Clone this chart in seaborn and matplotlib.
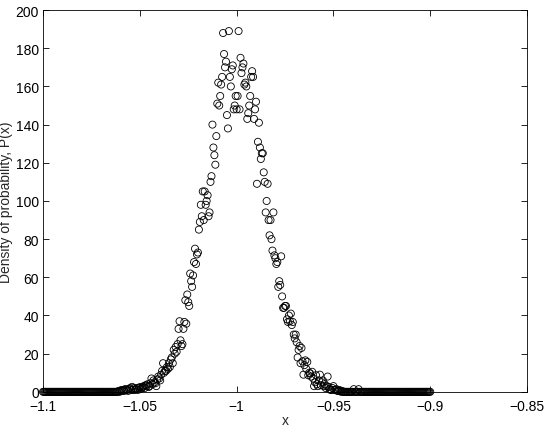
import numpy as np
import pandas as pd
import matplotlib
matplotlib.use("Agg")
import matplotlib.pyplot as plt
import seaborn as sns

# Histogram bins: x runs from -1.1 to -0.9 in steps of 0.0005
X_START = -1.1
X_STOP = -0.9
N_BINS = 401

# Density values, one per bin (bins 0..77 and 327..400 are zero)
left_zeros = [0] * 78
density_mid = [
    0.5, 0, 0.5, 1, 0.5, 1, 0.5, 1.5, 1, 1, 0.5, 1.5, 2, 1, 2.6, 1, 2, 1, 1.5, 2,
    1, 2, 2.5, 1.5, 2, 2.6, 3, 2, 3.5, 3, 4, 2.5, 3, 4.5, 7, 4, 6, 5, 4.5, 3,
    6.5, 8, 7, 6, 9, 11, 15, 10, 11, 11, 13, 12, 15, 13, 17, 18, 15, 22, 20, 23.5,
    21, 25, 33, 37, 27, 24, 25, 33, 36.6, 48, 35.7, 51, 47, 45, 62, 58, 55, 61, 68, 75,
    67, 72, 73, 85, 89, 98, 92, 105, 90, 105, 98, 100, 103, 92, 94, 110, 113, 140, 128, 124,
    119, 134, 151, 162, 150, 155, 161, 165, 188, 177, 170, 173, 145, 138, 189, 165, 160, 169, 171, 148,
    150, 155, 148, 155, 189, 148, 175, 167, 170, 172, 161, 162, 160, 143, 146, 150, 155, 165, 168, 165,
    143, 148, 152, 109, 131, 141, 128, 122, 125, 125, 115, 110, 94, 100, 109, 90, 82, 90, 80, 74,
    94, 71.5, 70, 67, 68, 55, 58, 56, 71, 50, 44, 44, 45, 45, 38, 36.6, 40, 37, 41, 35,
    36.6, 30, 28, 30, 26, 18, 22, 24, 15, 23, 16, 9, 14, 16.5, 12, 15.7, 8.7, 10, 9.6, 8,
    10.5, 7, 3, 5, 8.7, 4, 3, 6, 9, 3.5, 5, 6, 3, 4, 2, 3, 8, 2.6, 1.4, 1,
    1, 2, 3, 1, 1, 1.4, 0.5, 0.5, 1, 0.5, 0, 0.5, 0, 0, 0, 0, 0, 0, 0, 0,
    0, 0, 0, 1.4, 0, 0, 0, 0, 1.4,
]
right_zeros = [0] * (N_BINS - len(left_zeros) - len(density_mid))

x = np.linspace(X_START, X_STOP, N_BINS)
density = left_zeros + density_mid + right_zeros
df = pd.DataFrame({"x": x, "P": density})

sns.set_style("ticks")
plt.rcParams["font.family"] = ["Liberation Sans", "DejaVu Sans"]
plt.rcParams["axes.unicode_minus"] = True

fig = plt.figure(figsize=(5.45, 4.27), dpi=100)
ax = fig.add_axes([0.079, 0.080, 0.888, 0.894])

sns.scatterplot(data=df, x="x", y="P", ax=ax, marker="o", s=26,
                facecolor="none", edgecolor="black", linewidth=0.6,
                clip_on=False, legend=False)

ax.set_xlim(-1.1, -0.85)
ax.set_ylim(0, 200)
ax.set_xticks([-1.1, -1.05, -1.0, -0.95, -0.9, -0.85])
ax.set_xticklabels(["\u22121.1", "\u22121.05", "\u22121", "\u22120.95", "\u22120.9", "\u22120.85"])
ax.set_yticks(range(0, 201, 20))

ax.tick_params(direction="in", length=4, width=0.6, labelsize=10,
               top=True, right=True, colors="black")
ax.tick_params(axis="x", pad=5)
ax.tick_params(axis="y", pad=3)
for side in ax.spines.values():
    side.set_visible(True)
    side.set_linewidth(0.6)
    side.set_color("black")

ax.set_xlabel("x", fontsize=10, labelpad=0)
ax.set_ylabel("Density of probability, P(x)", fontsize=10, labelpad=2)

fig.savefig("out.png", dpi=100)
